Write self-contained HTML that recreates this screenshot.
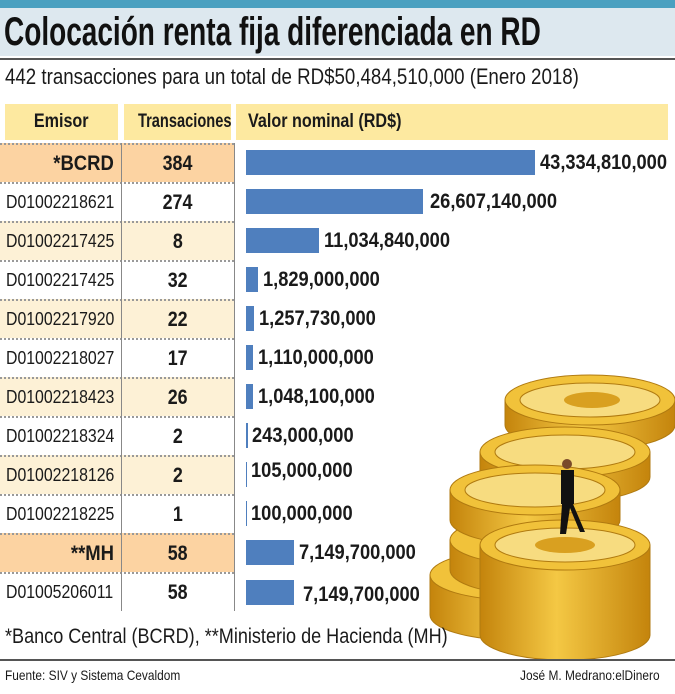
<!DOCTYPE html>
<html><head><meta charset="utf-8"><style>
body{margin:0;width:675px;height:694px;background:#fff;position:relative;overflow:hidden;font-family:"Liberation Sans",sans-serif;color:#1a1a1a}
.abs{position:absolute;white-space:nowrap}
.s{display:inline-block;transform:scaleX(.8);transform-origin:0 50%;white-space:nowrap}
.c{display:inline-block;transform:scaleX(.85);transform-origin:50% 50%;white-space:nowrap}
.row{position:absolute;left:0;width:234px;height:39px;border-top:2px dotted #999;box-sizing:border-box}
.em{position:absolute;left:6px;width:112px;font-size:18px;line-height:37px;white-space:nowrap}
.em .s{transform:scaleX(.88)}
.tr{position:absolute;left:122px;width:112px;text-align:center;font-size:21px;font-weight:bold;line-height:37px}
.bar{position:absolute;left:246px;height:25px;background:#4f7fbe}
.val{position:absolute;font-size:21px;font-weight:bold;line-height:25px;white-space:nowrap}
.val span{display:inline-block;transform:scaleX(.87);transform-origin:0 50%}
</style></head><body>
<div class="abs" style="left:0;top:0;width:675px;height:8px;background:#4aa0c0"></div>
<div class="abs" style="left:0;top:8px;width:675px;height:48px;background:#dde8ef"></div>
<div class="abs" style="left:4px;top:9px;font-size:40px;font-weight:bold;line-height:46px;color:#111"><span style="display:inline-block;transform:scaleX(.7);transform-origin:0 50%">Colocación renta fija diferenciada en RD</span></div>
<div class="abs" style="left:0;top:58px;width:675px;height:2px;background:#555"></div>
<div class="abs" style="left:5px;top:63px;font-size:22px;line-height:28px"><span style="display:inline-block;transform:scaleX(.85);transform-origin:0 50%">442 transacciones para un total de RD$50,484,510,000 (Enero 2018)</span></div>
<div class="abs" style="left:5px;top:104px;width:113px;height:36px;background:#fde9a0;text-align:center;font-size:19px;font-weight:bold;line-height:36px"><span class="c">Emisor</span></div>
<div class="abs" style="left:124px;top:104px;width:107px;height:36px;background:#fde9a0;text-align:center;font-size:19px;font-weight:bold;line-height:36px"><span class="c" style="transform:scaleX(.77)">Transaciones</span></div>
<div class="abs" style="left:236px;top:104px;width:432px;height:36px;background:#fde9a0;font-size:19px;font-weight:bold;line-height:36px"><span class="s" style="margin-left:12px;transform:scaleX(.85)">Valor nominal (RD$)</span></div>

<div class="row" style="top:143px;background:#fcd3a2"><div class="em" style="text-align:right;font-weight:bold;font-size:21px;width:108px"><span class="s" style="transform-origin:100% 50%">*BCRD</span></div><div class="tr"><span class="c">384</span></div></div>
<div class="row" style="top:182px"><div class="em"><span class="s">D01002218621</span></div><div class="tr"><span class="c">274</span></div></div>
<div class="row" style="top:221px;background:#fdf1d6"><div class="em"><span class="s">D01002217425</span></div><div class="tr"><span class="c">8</span></div></div>
<div class="row" style="top:260px"><div class="em"><span class="s">D01002217425</span></div><div class="tr"><span class="c">32</span></div></div>
<div class="row" style="top:299px;background:#fdf1d6"><div class="em"><span class="s">D01002217920</span></div><div class="tr"><span class="c">22</span></div></div>
<div class="row" style="top:338px"><div class="em"><span class="s">D01002218027</span></div><div class="tr"><span class="c">17</span></div></div>
<div class="row" style="top:377px;background:#fdf1d6"><div class="em"><span class="s">D01002218423</span></div><div class="tr"><span class="c">26</span></div></div>
<div class="row" style="top:416px"><div class="em"><span class="s">D01002218324</span></div><div class="tr"><span class="c">2</span></div></div>
<div class="row" style="top:455px;background:#fdf1d6"><div class="em"><span class="s">D01002218126</span></div><div class="tr"><span class="c">2</span></div></div>
<div class="row" style="top:494px"><div class="em"><span class="s">D01002218225</span></div><div class="tr"><span class="c">1</span></div></div>
<div class="row" style="top:533px;background:#fcd3a2"><div class="em" style="text-align:right;font-weight:bold;font-size:21px;width:108px"><span class="s" style="transform-origin:100% 50%">**MH</span></div><div class="tr"><span class="c">58</span></div></div>
<div class="row" style="top:572px"><div class="em"><span class="s">D01005206011</span></div><div class="tr"><span class="c">58</span></div></div>
<div class="abs" style="left:121px;top:143px;width:1px;height:468px;background:#888"></div>
<div class="abs" style="left:234px;top:143px;width:1px;height:468px;background:#888"></div>

<svg class="abs" style="left:420px;top:360px" width="255" height="300" viewBox="0 0 255 300">
<defs><linearGradient id="g" x1="0" x2="1"><stop offset="0" stop-color="#c4840c"/><stop offset=".45" stop-color="#f4c844"/><stop offset="1" stop-color="#c4840c"/></linearGradient></defs>
<g stroke="#b07a10" stroke-width="1">
<path d="M85 40 v25 a85 25 0 0 0 170 0 v-25z" fill="url(#g)"/><ellipse cx="170" cy="40" rx="85" ry="25" fill="#f1c23a"/><ellipse cx="170" cy="40" rx="70" ry="17" fill="#f7dc80"/>
<path d="M60 92 v25 a85 25 0 0 0 170 0 v-25z" fill="url(#g)"/><ellipse cx="145" cy="92" rx="85" ry="25" fill="#f1c23a"/><ellipse cx="145" cy="92" rx="70" ry="17" fill="#f7dc80"/>
<path d="M10 215 v40 a85 25 0 0 0 170 0 v-40z" fill="url(#g)"/><ellipse cx="95" cy="215" rx="85" ry="25" fill="#f1c23a"/>
<path d="M30 180 v30 a85 25 0 0 0 170 0 v-30z" fill="url(#g)"/><ellipse cx="115" cy="180" rx="85" ry="25" fill="#f1c23a"/>
<path d="M30 130 v30 a85 25 0 0 0 170 0 v-30z" fill="url(#g)"/><ellipse cx="115" cy="130" rx="85" ry="25" fill="#f1c23a"/><ellipse cx="115" cy="130" rx="70" ry="17" fill="#f7dc80"/>
<path d="M60 185 v90 a85 25 0 0 0 170 0 v-90z" fill="url(#g)"/><ellipse cx="145" cy="185" rx="85" ry="25" fill="#f1c23a"/><ellipse cx="145" cy="185" rx="70" ry="17" fill="#f7dc80"/>
</g>
<g fill="#d9a020"><ellipse cx="172" cy="40" rx="28" ry="8"/><ellipse cx="145" cy="185" rx="30" ry="8"/></g>
<g fill="#111"><circle cx="147" cy="104" r="5" fill="#7a4a2a"/><rect x="141" y="110" width="13" height="34"/><path d="M142 144 l-2 30 h6 l4-26 l10 24 h5 l-12-28z"/></g>
</svg>

<div class="bar" style="top:150px;width:289px"></div><div class="val" style="top:150px;left:540px"><span>43,334,810,000</span></div>
<div class="bar" style="top:189px;width:177px"></div><div class="val" style="top:189px;left:430px"><span>26,607,140,000</span></div>
<div class="bar" style="top:228px;width:73px"></div><div class="val" style="top:228px;left:324px"><span>11,034,840,000</span></div>
<div class="bar" style="top:267px;width:12px"></div><div class="val" style="top:267px;left:263px"><span>1,829,000,000</span></div>
<div class="bar" style="top:306px;width:8px"></div><div class="val" style="top:306px;left:259px"><span>1,257,730,000</span></div>
<div class="bar" style="top:345px;width:7px"></div><div class="val" style="top:345px;left:258px"><span>1,110,000,000</span></div>
<div class="bar" style="top:384px;width:7px"></div><div class="val" style="top:384px;left:258px"><span>1,048,100,000</span></div>
<div class="bar" style="top:423px;width:2px"></div><div class="val" style="top:423px;left:252px"><span>243,000,000</span></div>
<div class="bar" style="top:462px;width:1px"></div><div class="val" style="top:458px;left:251px"><span>105,000,000</span></div>
<div class="bar" style="top:501px;width:1px"></div><div class="val" style="top:501px;left:251px"><span>100,000,000</span></div>
<div class="bar" style="top:540px;width:48px"></div><div class="val" style="top:540px;left:299px"><span>7,149,700,000</span></div>
<div class="bar" style="top:580px;width:48px"></div><div class="val" style="top:582px;left:303px"><span>7,149,700,000</span></div>

<div class="abs" style="left:5px;top:623px;font-size:21px;line-height:28px"><span class="s" style="transform:scaleX(.86)">*Banco Central (BCRD), **Ministerio de Hacienda (MH)</span></div>
<div class="abs" style="left:0;top:659px;width:675px;height:2px;background:#555"></div>
<div class="abs" style="left:5px;top:666px;font-size:14px;line-height:18px"><span class="s" style="transform:scaleX(.85)">Fuente: SIV y Sistema Cevaldom</span></div>
<div class="abs" style="left:520px;top:666px;font-size:14px;line-height:18px"><span class="s" style="transform:scaleX(.85)">José M. Medrano:elDinero</span></div>
</body></html>
